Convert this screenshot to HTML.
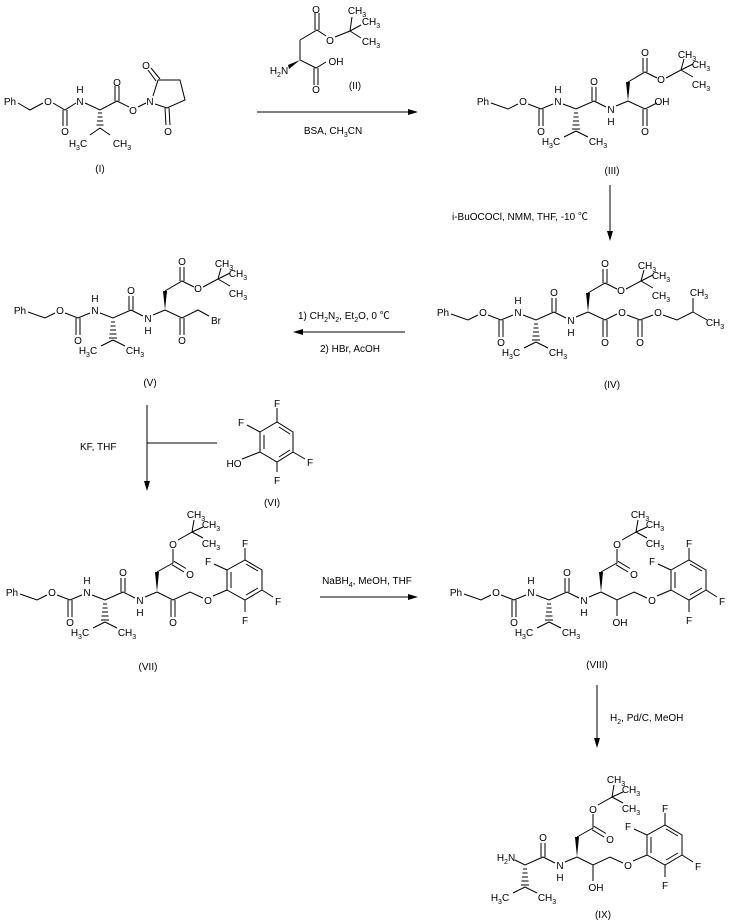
<!DOCTYPE html>
<html><head><meta charset="utf-8"><style>
html,body{margin:0;padding:0;background:#fff;}
svg{display:block;}
text{font-family:"Liberation Sans","Noto Sans CJK SC",sans-serif;font-size:10px;fill:#000;}
.m{text-anchor:middle;}
</style></head><body>
<svg width="732" height="923" viewBox="0 0 732 923" xmlns="http://www.w3.org/2000/svg">
<g fill="none" stroke="#000" stroke-width="1">

<!-- Structure I -->
<path d="M18,103 L30,110 L43,103 M53,103 L65,110 L76,103 M63,110 L63,126 M67,110 L67,126 M85,103 L100,110 L117,101 M100,128 L90,135 M100,128 L110,135 M115,101 L115,86 M119,101 L119,86 M117,101 L129,107 M138,107 L146,103 M153,96 L158,80 M156,81 L148,70 M160,79 L151,68 M158,80 L180,80 L185,100 L167,108 L155,104 M165,108 L166,125 M169,108 L170,125"/>
<path d="M98,113 L102,113 M97.5,117 L102.5,117 M97,121 L103,121 M96.5,125 L103.5,125"/>
</g>
<g>
<text x="10" y="105" class="m">Ph</text>
<text x="48" y="105" class="m">O</text>
<text x="65" y="135" class="m">O</text>
<text x="80" y="105" class="m">N</text>
<text x="80" y="93" class="m">H</text>
<text x="78" y="147" class="m">H<tspan font-size="7" dy="3">3</tspan><tspan dy="-3">C</tspan></text>
<text x="122" y="147" class="m">CH<tspan font-size="7" dy="3">3</tspan></text>
<text x="117" y="86" class="m">O</text>
<text x="133" y="114" class="m">O</text>
<text x="150" y="105" class="m">N</text>
<text x="146" y="69" class="m">O</text>
<text x="168" y="135" class="m">O</text>
<text x="100" y="172" class="m">(I)</text>
</g>

<!-- Structure II -->
<g fill="none" stroke="#000">
<path d="M300,40 L317,30 L326,36 M335,37 L350,31 L352,17 M350,31 L361,25 M350,31 L361,38 M315,30 L315,13 M319,30 L319,13 M300,40 L300,60 L316,68 L326,62 M314,68 L314,85 M318,68 L318,85"/>
</g>
<polygon points="300,60 288,65 289,69" fill="#000"/>
<text x="316" y="13" class="m">O</text>
<text x="330" y="44" class="m">O</text>
<text x="357" y="14" class="m">CH<tspan font-size="7" dy="3">3</tspan></text>
<text x="371" y="25" class="m">CH<tspan font-size="7" dy="3">3</tspan></text>
<text x="371" y="45" class="m">CH<tspan font-size="7" dy="3">3</tspan></text>
<text x="279" y="74" class="m">H<tspan font-size="7" dy="3">2</tspan><tspan dy="-3">N</tspan></text>
<text x="316" y="93" class="m">O</text>
<text x="336" y="65" class="m">OH</text>
<text x="355" y="89" class="m">(II)</text>

<!-- Arrows -->
<g stroke="#000" fill="none">
<path d="M257,112 L410,112"/>
<path d="M610,185 L610,233"/>
<path d="M405,332 L300,332"/>
<path d="M147,405 L147,483 M147,443 L217,443"/>
<path d="M320,597 L410,597"/>
<path d="M597,685 L597,740"/>
</g>
<g fill="#000">
<polygon points="418,112 408,109 408,115"/>
<polygon points="610,241 607,231 613,231"/>
<polygon points="293,332 303,329 303,335"/>
<polygon points="147,491 144,481 150,481"/>
<polygon points="418,597 408,594 408,600"/>
<polygon points="597,748 594,738 600,738"/>
</g>
<text x="333" y="134" class="m">BSA, CH<tspan font-size="7" dy="3">3</tspan><tspan dy="-3">CN</tspan></text>
<text x="452" y="220">i-BuOCOCl, NMM, THF, -10 ℃</text>
<text x="298" y="319">1) CH<tspan font-size="7" dy="3">2</tspan><tspan dy="-3">N</tspan><tspan font-size="7" dy="3">2</tspan><tspan dy="-3">, Et</tspan><tspan font-size="7" dy="3">2</tspan><tspan dy="-3">O, 0 ℃</tspan></text>
<text x="320" y="352">2) HBr, AcOH</text>
<text x="80" y="450">KF, THF</text>
<text x="367" y="584" class="m">NaBH<tspan font-size="7" dy="3">4</tspan><tspan dy="-3">, MeOH, THF</tspan></text>
<text x="610" y="721">H<tspan font-size="7" dy="3">2</tspan><tspan dy="-3">, Pd/C, MeOH</tspan></text>

<!-- Structure VI -->
<g fill="none" stroke="#000">
<path d="M260,432 L277,422 L293,432 L293,452 L277,462 L260,452 Z"/>
<path d="M264,435 L264,449 M279,427 L290,434 M290,450 L279,457"/>
<path d="M277,422 L277,408 M260,432 L247,425 M260,452 L242,459 M293,452 L305,459 M277,462 L277,472"/>
</g>
<text x="277" y="407" class="m">F</text>
<text x="241" y="426" class="m">F</text>
<text x="234" y="467" class="m">HO</text>
<text x="310" y="466" class="m">F</text>
<text x="277" y="484" class="m">F</text>
<text x="272" y="506" class="m">(VI)</text>

<!-- Fragment A (Cbz-Val-NH-) definitions applied via transforms -->
<!-- III -->
<g transform="translate(471,-491)">
<g fill="none" stroke="#000">
<path d="M20,594 L37,600 L47,595 M57,595 L70,600 L82,595 M68,600 L68,617 M72,600 L72,617 M92,595 L105,600 L123,592 M105,622 L93,628 M105,622 L117,628 M121,592 L121,578 M125,592 L125,578 M123,592 L135,598 M145,597 L157,592"/>
<path d="M103,604 L107,604 M102.5,608 L107.5,608 M102,612 L108,612 M101.5,616 L108.5,616 M101,620 L109,620"/>
<path d="M157,573 L174,563 L186,569 M195,569 L210,561 L213,550 M210,561 L222,555 M210,561 L222,568 M172,563 L172,549 M176,563 L176,549 M157,592 L174,600 L186,594 M172,600 L172,617 M176,600 L176,617"/>
</g>
<polygon points="157,592 155,573 159,573" fill="#000"/>
<text x="12" y="596" class="m">Ph</text><text x="52" y="596" class="m">O</text><text x="70" y="626" class="m">O</text>
<text x="87" y="596" class="m">N</text><text x="87" y="584" class="m">H</text>
<text x="80" y="636" class="m">H<tspan font-size="7" dy="3">3</tspan><tspan dy="-3">C</tspan></text>
<text x="127" y="636" class="m">CH<tspan font-size="7" dy="3">3</tspan></text>
<text x="123" y="576" class="m">O</text><text x="140" y="604" class="m">N</text><text x="140" y="616" class="m">H</text>
<text x="174" y="547" class="m">O</text><text x="190" y="574" class="m">O</text>
<text x="216" y="549" class="m">CH<tspan font-size="7" dy="3">3</tspan></text>
<text x="230" y="559" class="m">CH<tspan font-size="7" dy="3">3</tspan></text>
<text x="230" y="579" class="m">CH<tspan font-size="7" dy="3">3</tspan></text>
<text x="191" y="596" class="m">OH</text><text x="174" y="626" class="m">O</text>
</g>
<text x="612" y="174" class="m">(III)</text>

<!-- IV -->
<g transform="translate(431,-280)">
<g fill="none" stroke="#000">
<path d="M20,594 L37,600 L47,595 M57,595 L70,600 L82,595 M68,600 L68,617 M72,600 L72,617 M92,595 L105,600 L123,592 M105,622 L93,628 M105,622 L117,628 M121,592 L121,578 M125,592 L125,578 M123,592 L135,598 M145,597 L157,592"/>
<path d="M103,604 L107,604 M102.5,608 L107.5,608 M102,612 L108,612 M101.5,616 L108.5,616 M101,620 L109,620"/>
<path d="M157,573 L174,563 L186,569 M195,569 L210,561 L213,550 M210,561 L222,555 M210,561 L222,568 M172,563 L172,549 M176,563 L176,549 M157,592 L174,600 L186,594 M172,600 L172,617 M176,600 L176,617"/>
<path d="M196,595 L209,600 L222,595 M207,600 L207,617 M211,600 L211,617 M232,595 L246,600 L262,592 L262,578 M262,592 L276,600"/>
</g>
<polygon points="157,592 155,573 159,573" fill="#000"/>
<text x="12" y="596" class="m">Ph</text><text x="52" y="596" class="m">O</text><text x="70" y="626" class="m">O</text>
<text x="87" y="596" class="m">N</text><text x="87" y="584" class="m">H</text>
<text x="80" y="636" class="m">H<tspan font-size="7" dy="3">3</tspan><tspan dy="-3">C</tspan></text>
<text x="127" y="636" class="m">CH<tspan font-size="7" dy="3">3</tspan></text>
<text x="123" y="576" class="m">O</text><text x="140" y="604" class="m">N</text><text x="140" y="616" class="m">H</text>
<text x="174" y="547" class="m">O</text><text x="190" y="574" class="m">O</text>
<text x="216" y="549" class="m">CH<tspan font-size="7" dy="3">3</tspan></text>
<text x="230" y="559" class="m">CH<tspan font-size="7" dy="3">3</tspan></text>
<text x="230" y="579" class="m">CH<tspan font-size="7" dy="3">3</tspan></text>
<text x="191" y="596" class="m">O</text><text x="174" y="626" class="m">O</text>
<text x="209" y="626" class="m">O</text><text x="227" y="596" class="m">O</text>
<text x="268" y="576" class="m">CH<tspan font-size="7" dy="3">3</tspan></text>
<text x="284" y="606" class="m">CH<tspan font-size="7" dy="3">3</tspan></text>
</g>
<text x="612" y="388" class="m">(IV)</text>

<!-- V -->
<g transform="translate(8,-282)">
<g fill="none" stroke="#000">
<path d="M20,594 L37,600 L47,595 M57,595 L70,600 L82,595 M68,600 L68,617 M72,600 L72,617 M92,595 L105,600 L123,592 M105,622 L93,628 M105,622 L117,628 M121,592 L121,578 M125,592 L125,578 M123,592 L135,598 M145,597 L157,592"/>
<path d="M103,604 L107,604 M102.5,608 L107.5,608 M102,612 L108,612 M101.5,616 L108.5,616 M101,620 L109,620"/>
<path d="M157,573 L174,563 L186,569 M195,569 L210,561 L213,550 M210,561 L222,555 M210,561 L222,568 M172,563 L172,549 M176,563 L176,549 M157,592 L174,600 L190,592 L201,598 M172,600 L172,617 M176,600 L176,617"/>
</g>
<polygon points="157,592 155,573 159,573" fill="#000"/>
<text x="12" y="596" class="m">Ph</text><text x="52" y="596" class="m">O</text><text x="70" y="626" class="m">O</text>
<text x="87" y="596" class="m">N</text><text x="87" y="584" class="m">H</text>
<text x="80" y="636" class="m">H<tspan font-size="7" dy="3">3</tspan><tspan dy="-3">C</tspan></text>
<text x="127" y="636" class="m">CH<tspan font-size="7" dy="3">3</tspan></text>
<text x="123" y="576" class="m">O</text><text x="140" y="604" class="m">N</text><text x="140" y="616" class="m">H</text>
<text x="174" y="547" class="m">O</text><text x="190" y="574" class="m">O</text>
<text x="216" y="549" class="m">CH<tspan font-size="7" dy="3">3</tspan></text>
<text x="230" y="559" class="m">CH<tspan font-size="7" dy="3">3</tspan></text>
<text x="230" y="579" class="m">CH<tspan font-size="7" dy="3">3</tspan></text>
<text x="174" y="626" class="m">O</text>
<text x="208" y="606" class="m">Br</text>
</g>
<text x="150" y="386" class="m">(V)</text>

<!-- VII -->
<g>
<g fill="none" stroke="#000">
<path d="M20,594 L37,600 L47,595 M57,595 L70,600 L82,595 M68,600 L68,617 M72,600 L72,617 M92,595 L105,600 L123,592 M105,622 L93,628 M105,622 L117,628 M121,592 L121,578 M125,592 L125,578 M123,592 L135,598 M145,597 L157,592"/>
<path d="M103,604 L107,604 M102.5,608 L107.5,608 M102,612 L108,612 M101.5,616 L108.5,616 M101,620 L109,620"/>
<path d="M157,572 L173,563 L173,549 M174,561.3 L186,568.5 M172,564.7 L184,572 M178,540 L192,532 L194,520 M192,532 L203,527 M192,532 L203,538 M157,592 L173,600 L190,592 L203,598 M171,600 L171,617 M175,600 L175,617 M213,596 L227,590"/>
<path d="M227,590 L227,570 L245,560 L262,570 L262,590 L245,600 Z M231,588 L231,572 M246,564 L258,571 M258,588 L246,595 M245,560 L245,548 M227,570 L214,564 M262,590 L273,597 M245,600 L245,612"/>
</g>
<polygon points="157,592 155,572 159,572" fill="#000"/>
<text x="12" y="596" class="m">Ph</text><text x="52" y="596" class="m">O</text><text x="70" y="626" class="m">O</text>
<text x="87" y="596" class="m">N</text><text x="87" y="584" class="m">H</text>
<text x="80" y="636" class="m">H<tspan font-size="7" dy="3">3</tspan><tspan dy="-3">C</tspan></text>
<text x="127" y="636" class="m">CH<tspan font-size="7" dy="3">3</tspan></text>
<text x="123" y="576" class="m">O</text><text x="140" y="604" class="m">N</text><text x="140" y="616" class="m">H</text>
<text x="190" y="578" class="m">O</text><text x="173" y="548" class="m">O</text>
<text x="196" y="518" class="m">CH<tspan font-size="7" dy="3">3</tspan></text>
<text x="211" y="528" class="m">CH<tspan font-size="7" dy="3">3</tspan></text>
<text x="211" y="547" class="m">CH<tspan font-size="7" dy="3">3</tspan></text>
<text x="173" y="626" class="m">O</text><text x="208" y="604" class="m">O</text>
<text x="245" y="547" class="m">F</text><text x="208" y="565" class="m">F</text>
<text x="278" y="605" class="m">F</text><text x="245" y="624" class="m">F</text>
</g>
<text x="148" y="670" class="m">(VII)</text>

<!-- VIII -->
<g transform="translate(444,0)">
<g fill="none" stroke="#000">
<path d="M20,594 L37,600 L47,595 M57,595 L70,600 L82,595 M68,600 L68,617 M72,600 L72,617 M92,595 L105,600 L123,592 M105,622 L93,628 M105,622 L117,628 M121,592 L121,578 M125,592 L125,578 M123,592 L135,598 M145,597 L157,592"/>
<path d="M103,604 L107,604 M102.5,608 L107.5,608 M102,612 L108,612 M101.5,616 L108.5,616 M101,620 L109,620"/>
<path d="M157,572 L173,563 L173,549 M174,561.3 L186,568.5 M172,564.7 L184,572 M178,540 L192,532 L194,520 M192,532 L203,527 M192,532 L203,538 M157,592 L173,600 L190,592 L203,598 M173,600 L173,616 M213,596 L227,590"/>
<path d="M227,590 L227,570 L245,560 L262,570 L262,590 L245,600 Z M231,588 L231,572 M246,564 L258,571 M258,588 L246,595 M245,560 L245,548 M227,570 L214,564 M262,590 L273,597 M245,600 L245,612"/>
</g>
<polygon points="157,592 155,572 159,572" fill="#000"/>
<text x="12" y="596" class="m">Ph</text><text x="52" y="596" class="m">O</text><text x="70" y="626" class="m">O</text>
<text x="87" y="596" class="m">N</text><text x="87" y="584" class="m">H</text>
<text x="80" y="636" class="m">H<tspan font-size="7" dy="3">3</tspan><tspan dy="-3">C</tspan></text>
<text x="127" y="636" class="m">CH<tspan font-size="7" dy="3">3</tspan></text>
<text x="123" y="576" class="m">O</text><text x="140" y="604" class="m">N</text><text x="140" y="616" class="m">H</text>
<text x="190" y="578" class="m">O</text><text x="173" y="548" class="m">O</text>
<text x="196" y="518" class="m">CH<tspan font-size="7" dy="3">3</tspan></text>
<text x="211" y="528" class="m">CH<tspan font-size="7" dy="3">3</tspan></text>
<text x="211" y="547" class="m">CH<tspan font-size="7" dy="3">3</tspan></text>
<text x="176" y="626" class="m">OH</text><text x="208" y="604" class="m">O</text>
<text x="245" y="547" class="m">F</text><text x="208" y="565" class="m">F</text>
<text x="278" y="605" class="m">F</text><text x="245" y="624" class="m">F</text>
</g>
<text x="597" y="668" class="m">(VIII)</text>

<!-- IX -->
<g transform="translate(420,265)">
<g fill="none" stroke="#000">
<path d="M95,595 L105,600 L123,592 M105,622 L93,628 M105,622 L117,628 M121,592 L121,578 M125,592 L125,578 M123,592 L135,598 M145,597 L157,592"/>
<path d="M103,604 L107,604 M102.5,608 L107.5,608 M102,612 L108,612 M101.5,616 L108.5,616 M101,620 L109,620"/>
<path d="M157,572 L173,563 L173,549 M174,561.3 L186,568.5 M172,564.7 L184,572 M178,540 L192,532 L194,520 M192,532 L203,527 M192,532 L203,538 M157,592 L173,600 L190,592 L203,598 M173,600 L173,616 M213,596 L227,590"/>
<path d="M227,590 L227,570 L245,560 L262,570 L262,590 L245,600 Z M231,588 L231,572 M246,564 L258,571 M258,588 L246,595 M245,560 L245,548 M227,570 L214,564 M262,590 L273,597 M245,600 L245,612"/>
</g>
<polygon points="157,592 155,572 159,572" fill="#000"/>
<text x="86" y="596" class="m">H<tspan font-size="7" dy="3">2</tspan><tspan dy="-3">N</tspan></text>
<text x="80" y="636" class="m">H<tspan font-size="7" dy="3">3</tspan><tspan dy="-3">C</tspan></text>
<text x="127" y="636" class="m">CH<tspan font-size="7" dy="3">3</tspan></text>
<text x="123" y="576" class="m">O</text><text x="140" y="604" class="m">N</text><text x="140" y="616" class="m">H</text>
<text x="190" y="578" class="m">O</text><text x="173" y="548" class="m">O</text>
<text x="196" y="518" class="m">CH<tspan font-size="7" dy="3">3</tspan></text>
<text x="211" y="528" class="m">CH<tspan font-size="7" dy="3">3</tspan></text>
<text x="211" y="547" class="m">CH<tspan font-size="7" dy="3">3</tspan></text>
<text x="176" y="626" class="m">OH</text><text x="208" y="604" class="m">O</text>
<text x="245" y="547" class="m">F</text><text x="208" y="565" class="m">F</text>
<text x="278" y="605" class="m">F</text><text x="245" y="624" class="m">F</text>
</g>
<text x="603" y="918" class="m">(IX)</text>
</svg>
</body></html>
